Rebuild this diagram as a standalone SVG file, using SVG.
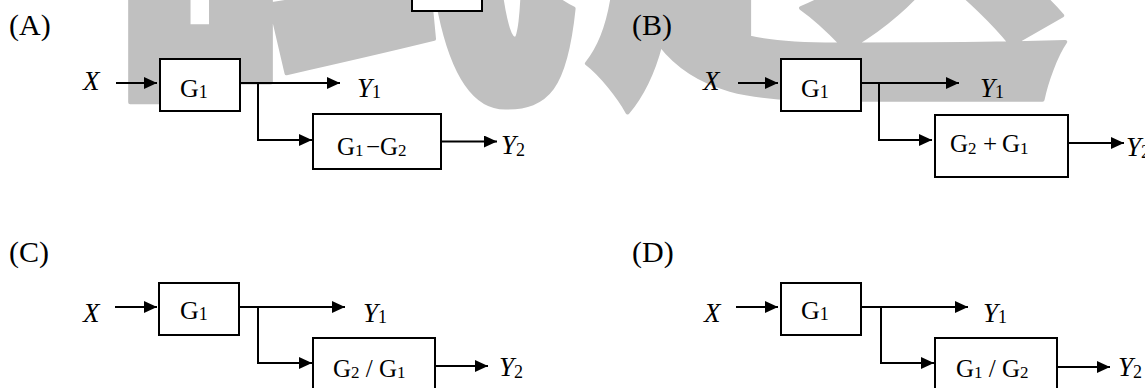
<svg xmlns="http://www.w3.org/2000/svg" width="1145" height="388" viewBox="0 0 1145 388">
<defs>
<marker id="ah" markerUnits="userSpaceOnUse" markerWidth="14" markerHeight="13" refX="13" refY="6" orient="auto">
<path d="M0,0 L13,6 L0,12 Z" fill="#000"/>
</marker>
<style>
.wm{font-family:"Noto Sans CJK TC","Noto Sans CJK SC",sans-serif;font-weight:900;font-size:490px;fill:#c0c0c0;stroke:#c0c0c0;stroke-width:4;stroke-linejoin:round}
.box{fill:#fff;stroke:#000;stroke-width:2}
.ar{fill:none;stroke:#000;stroke-width:2;marker-end:url(#ah)}
.t{font-family:"Liberation Serif","Times New Roman",serif;fill:#000}
.lbl{font-size:30px}
.it{font-size:27px;font-style:italic}
.g{font-size:26px}
.g2{font-size:25px}
.sub{font-size:18px;font-style:normal}
.sub2{font-size:17px;font-style:normal}
</style>
</defs>
<text class="wm" x="92" y="62">試題</text>
<rect class="box" x="412" y="-40" width="70" height="51"/>
<g id="connectors">
<line class="ar" x1="116" y1="83" x2="157" y2="83"/>
<line class="ar" x1="240" y1="83" x2="340" y2="83"/>
<polyline class="ar" points="258,83 258,140 312,140"/>
<line class="ar" x1="441" y1="141.5" x2="497" y2="141.5"/>
<line class="ar" x1="738" y1="83" x2="778" y2="83"/>
<line class="ar" x1="861" y1="83" x2="959" y2="83"/>
<polyline class="ar" points="879,83 879,140 932,140"/>
<line class="ar" x1="1068" y1="143" x2="1124" y2="143"/>
<line class="ar" x1="115" y1="307" x2="157" y2="307"/>
<line class="ar" x1="239" y1="307" x2="345" y2="307"/>
<polyline class="ar" points="258,307 258,363 312,363"/>
<line class="ar" x1="435" y1="366" x2="488" y2="366"/>
<line class="ar" x1="736" y1="307" x2="778" y2="307"/>
<line class="ar" x1="861" y1="307" x2="968" y2="307"/>
<polyline class="ar" points="881,307 881,363 934,363"/>
<line class="ar" x1="1057" y1="367" x2="1110" y2="367"/>
</g>
<g id="panelA">
<text class="t lbl" x="9" y="35">(A)</text>
<text class="t it" x="83" y="90">X</text>
<g id="A_G1"><rect class="box" x="160" y="59" width="80" height="52"/><text class="t g" x="180" y="97">G<tspan class="sub" dy="1">1</tspan></text></g>
<text class="t it" x="357" y="97">Y<tspan class="sub" dy="1">1</tspan></text>
<g id="A_G1mG2"><rect class="box" x="313" y="114" width="128" height="55"/><text class="t g2" x="337" y="155">G<tspan class="sub2" dy="1">1</tspan><tspan x="366" dy="-1">−</tspan><tspan x="380">G</tspan><tspan class="sub2" dy="1">2</tspan></text></g>
<text class="t it" x="501" y="154">Y<tspan class="sub" dy="2">2</tspan></text>
</g>
<g id="panelB">
<text class="t lbl" x="632" y="35">(B)</text>
<text class="t it" x="703" y="90">X</text>
<g id="B_G1"><rect class="box" x="781" y="59" width="80" height="52"/><text class="t g" x="801" y="97">G<tspan class="sub" dy="1">1</tspan></text></g>
<text class="t it" x="980" y="97">Y<tspan class="sub" dy="1">1</tspan></text>
<g id="B_G2pG1"><rect class="box" x="935" y="115" width="133" height="62"/><text class="t g2" x="950" y="152">G<tspan class="sub2" dy="2">2</tspan><tspan x="983" dy="-2">+</tspan><tspan x="1002">G</tspan><tspan class="sub2" dy="2">1</tspan></text></g>
<text class="t it" x="1126" y="156">Y<tspan class="sub" dy="2">2</tspan></text>
</g>
<g id="panelC">
<text class="t lbl" x="9" y="262">(C)</text>
<text class="t it" x="83" y="322">X</text>
<g id="C_G1"><rect class="box" x="159" y="283" width="80" height="52"/><text class="t g" x="180" y="319">G<tspan class="sub" dy="1">1</tspan></text></g>
<text class="t it" x="363" y="322">Y<tspan class="sub" dy="1">1</tspan></text>
<g id="C_G2dG1"><rect class="box" x="313" y="338" width="122" height="62"/><text class="t g2" x="333" y="377">G<tspan class="sub2" dy="1">2</tspan><tspan dy="-1"> / G</tspan><tspan class="sub2" dy="1">1</tspan></text></g>
<text class="t it" x="499" y="376">Y<tspan class="sub" dy="2">2</tspan></text>
</g>
<g id="panelD">
<text class="t lbl" x="632" y="262">(D)</text>
<text class="t it" x="704" y="322">X</text>
<g id="D_G1"><rect class="box" x="781" y="283" width="80" height="52"/><text class="t g" x="801" y="319">G<tspan class="sub" dy="1">1</tspan></text></g>
<text class="t it" x="983" y="322">Y<tspan class="sub" dy="1">1</tspan></text>
<g id="D_G1dG2"><rect class="box" x="935" y="338" width="122" height="62"/><text class="t g2" x="956" y="377">G<tspan class="sub2" dy="1">1</tspan><tspan dy="-1"> / G</tspan><tspan class="sub2" dy="1">2</tspan></text></g>
<text class="t it" x="1118" y="376">Y<tspan class="sub" dy="2">2</tspan></text>
</g>
</svg>
